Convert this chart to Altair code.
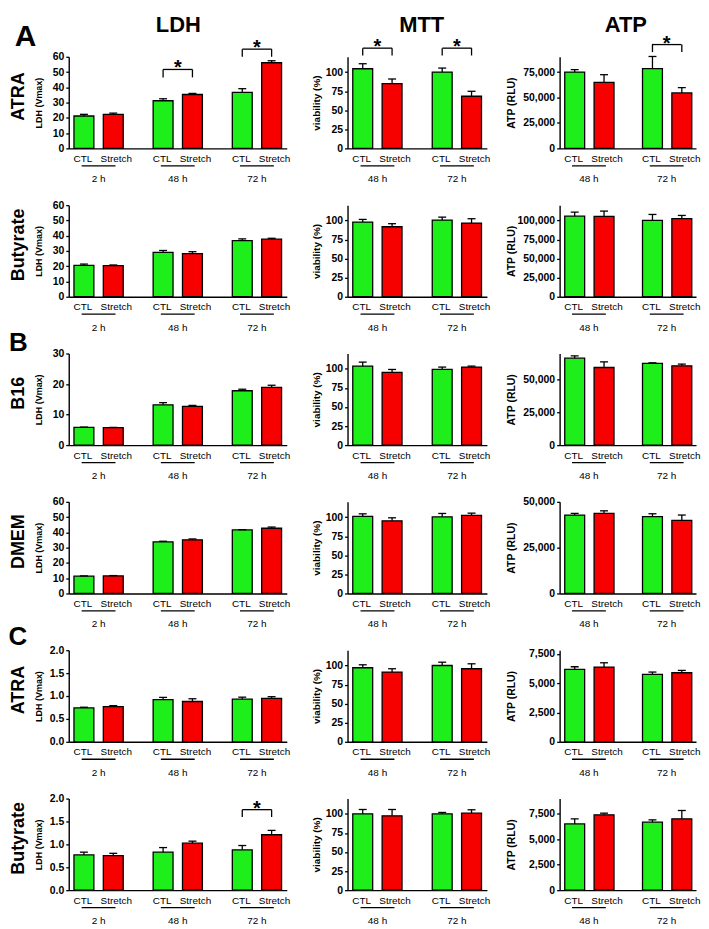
import altair as alt
import pandas as pd

FONT = "Liberation Sans, Arial, sans-serif"
GREEN = "#1EEF1A"
RED = "#F60000"
H = 92

conds = ["CTL", "Stretch"]
times_ldh = ["2 h", "48 h", "72 h"]
times_mt = ["48 h", "72 h"]
row_names = ["ATRA", "Butyrate", "B16", "DMEM", "ATRA", "Butyrate"]

# LDH (Vmax): CTL 2h, Stretch 2h, CTL 48h, Stretch 48h, CTL 72h, Stretch 72h
ldh_mean = [
    [21.2, 22.3, 31.2, 35.3, 36.7, 56.1],
    [20.6, 20.4, 29.0, 28.2, 36.8, 37.7],
    [5.8, 5.7, 13.2, 12.7, 17.8, 18.9],
    [11.3, 11.5, 33.8, 35.1, 41.6, 42.7],
    [0.74, 0.77, 0.92, 0.88, 0.93, 0.95],
    [0.77, 0.755, 0.83, 1.025, 0.88, 1.21],
]
ldh_err = [
    [1.1, 0.8, 1.3, 0.7, 2.4, 1.3],
    [0.8, 0.4, 1.3, 1.3, 1.1, 0.6],
    [0.1, 0.1, 0.7, 0.3, 0.5, 0.7],
    [0.2, 0.2, 0.4, 0.6, 0.2, 0.8],
    [0.015, 0.02, 0.05, 0.06, 0.045, 0.035],
    [0.06, 0.05, 0.10, 0.045, 0.095, 0.095],
]
# MTT viability (%): CTL 48h, Stretch 48h, CTL 72h, Stretch 72h
mtt_mean = [
    [104.3, 84.8, 100.0, 68.3],
    [97.8, 91.7, 100.4, 96.5],
    [103.5, 95.2, 99.1, 102.2],
    [100.9, 95.2, 100.4, 102.2],
    [97.0, 91.4, 100.0, 95.7],
    [100.0, 97.4, 100.0, 100.9],
]
mtt_err = [
    [6.6, 6.1, 5.2, 6.5],
    [3.5, 4.0, 3.9, 5.7],
    [5.2, 3.9, 3.1, 1.3],
    [3.4, 3.9, 4.4, 3.0],
    [3.9, 4.3, 4.3, 6.5],
    [5.7, 8.3, 1.8, 4.4],
]
# ATP (RLU)
atp_mean = [
    [75000, 64900, 78300, 54500],
    [105600, 105200, 100000, 102200],
    [66400, 59300, 62400, 60600],
    [42800, 43700, 41900, 39900],
    [6165, 6360, 5740, 5880],
    [6513, 7401, 6678, 7007],
]
atp_err = [
    [2300, 7500, 12000, 5200],
    [5300, 7000, 7800, 4300],
    [1800, 4300, 500, 1300],
    [900, 1400, 1600, 2900],
    [225, 370, 200, 200],
    [494, 165, 230, 822],
]

ldh_max = [60, 60, 30, 60, 2.0, 2.0]
ldh_ticks = [
    [0, 10, 20, 30, 40, 50, 60],
    [0, 10, 20, 30, 40, 50, 60],
    [0, 10, 20, 30],
    [0, 10, 20, 30, 40, 50, 60],
    [0, 0.5, 1.0, 1.5, 2.0],
    [0, 0.5, 1.0, 1.5, 2.0],
]
mtt_max = 120
mtt_ticks = [0, 25, 50, 75, 100]
atp_max = [90000, 120000, 70000, 50000, 7800, 9000]
atp_ticks = [
    [0, 25000, 50000, 75000],
    [0, 25000, 50000, 75000, 100000],
    [0, 25000, 50000],
    [0, 25000, 50000],
    [0, 2500, 5000, 7500],
    [0, 2500, 5000, 7500],
]

# significance brackets: (row, assay, time, bracket end, bracket top)
sig_row = [0, 0, 0, 0, 0, 5]
sig_assay = ["LDH", "LDH", "MTT", "MTT", "ATP", "LDH"]
sig_time = ["48 h", "72 h", "48 h", "72 h", "72 h", "72 h"]
sig_low = [46.5, 60.0, 121.7, 121.7, 94600, 1.597]
sig_high = [51.7, 65.0, 131.3, 131.3, 102000, 1.758]


def txt(label, x, y, size, weight="bold", angle=0, baseline="middle"):
    return alt.Chart(pd.DataFrame({"t": [label]})).mark_text(
        font=FONT, fontSize=size, fontWeight=weight, angle=angle,
        baseline=baseline, align="center", color="black"
    ).encode(text="t:N", x=alt.value(x), y=alt.value(y))


def panel(row, assay, times, means, errs, ymax, ticks, fmt, ytitle, title_x,
          title_size, width, extra):
    recs = []
    k = 0
    for t in times:
        for c in conds:
            recs.append(dict(time=t, cond=c, mean=means[k], hi=means[k] + errs[k]))
            k += 1
    df = pd.DataFrame(recs)
    tdf = pd.DataFrame({"time": times})
    xs = alt.Scale(paddingInner=0.378, paddingOuter=0.066)
    x = alt.X("time:N", sort=times, scale=xs,
              axis=alt.Axis(labels=False, ticks=False, title=None))
    xo = alt.XOffset("cond:N", sort=conds,
                     scale=alt.Scale(paddingInner=0.322, paddingOuter=0))
    ys = alt.Scale(domain=[0, ymax], nice=False, zero=True)
    yax = alt.Axis(values=ticks, format=fmt, title=ytitle, titleX=title_x,
                   titleY=H / 2, titleAngle=270, titleBaseline="middle",
                   titleAlign="center", titleFontSize=title_size)

    def Y(field):
        return alt.Y(field, scale=ys, axis=yax, title=ytitle)

    bars = alt.Chart(df).mark_bar(stroke="black", strokeWidth=1.3).encode(
        x=x, xOffset=xo, y=Y("mean:Q"),
        color=alt.Color("cond:N", scale=alt.Scale(domain=conds, range=[GREEN, RED]),
                        legend=None),
    )
    err = alt.Chart(df).mark_rule(color="black", strokeWidth=1.3).encode(
        x=x, xOffset=xo, y=Y("mean:Q"), y2="hi:Q")
    cap = alt.Chart(df).mark_tick(orient="horizontal", size=8, thickness=1.3,
                                  color="black", opacity=1).encode(
        x=x, xOffset=xo, y=Y("hi:Q"))
    clab_c = alt.Chart(df).transform_filter(alt.datum.cond == "CTL").mark_text(
        font=FONT, fontSize=10, baseline="middle", color="black", dx=-1).encode(
        x=x, xOffset=xo, y=alt.value(H + 10.5), text="cond:N")
    clab_s = alt.Chart(df).transform_filter(alt.datum.cond == "Stretch").mark_text(
        font=FONT, fontSize=10, baseline="middle", color="black", dx=3).encode(
        x=x, xOffset=xo, y=alt.value(H + 10.5), text="cond:N")
    uline = alt.Chart(tdf).mark_tick(orient="horizontal", size=34, thickness=1.3,
                                     color="black", opacity=1).encode(
        x=x, y=alt.value(H + 17.5))
    tlab = alt.Chart(tdf).mark_text(font=FONT, fontSize=10, baseline="middle",
                                    color="black").encode(
        x=x, y=alt.value(H + 31), text="time:N")
    layers = [bars, err, cap, clab_c, clab_s, uline, tlab]

    srecs = [dict(time=sig_time[i], low=sig_low[i], high=sig_high[i])
             for i in range(len(sig_row)) if sig_row[i] == row and sig_assay[i] == assay]
    if srecs:
        sdf = pd.DataFrame(srecs)
        sdf2 = pd.DataFrame([dict(time=r["time"], cond=c, low=r["low"], high=r["high"])
                             for r in srecs for c in conds])
        legs = alt.Chart(sdf2).mark_rule(color="black", strokeWidth=1.3).encode(
            x=x, xOffset=xo, y=Y("low:Q"), y2="high:Q")
        top = alt.Chart(sdf).mark_tick(orient="horizontal", size=29.5, thickness=1.3,
                                       color="black", opacity=1).encode(
            x=x, y=Y("high:Q"))
        star = alt.Chart(sdf).mark_text(text="*", font=FONT, fontSize=20,
                                        fontWeight="bold", baseline="alphabetic",
                                        dy=5, color="black").encode(
            x=x, y=Y("high:Q"))
        layers += [legs, top, star]
    layers += extra
    return alt.layer(*layers).properties(width=width, height=H)


def spacer(w):
    return alt.Chart(pd.DataFrame({"v": [0]})).mark_point(opacity=0).encode(
        x=alt.value(0), y=alt.value(0)).properties(width=w, height=H)


letters = {0: ("A", -43.5, -20, 30), 2: ("B", -50.5, -11, 26), 4: ("C", -51, -13, 26)}

items = []
for r in range(6):
    ex_ldh = [txt(row_names[r], -50, 40, 18, angle=270)]
    ex_mtt = []
    ex_atp = []
    if r == 0:
        ex_ldh.append(alt.Chart(pd.DataFrame({"v": [0]})).mark_point(
            filled=True, color="white", size=1, opacity=1, strokeWidth=0).encode(
            x=alt.value(-60), y=alt.value(-46)))
        ex_ldh.append(txt("LDH", 110, -42, 22, baseline="top"))
        ex_mtt.append(txt("MTT", 74.5, -42, 22, baseline="top"))
        ex_atp.append(txt("ATP", 66.5, -42, 22, baseline="top"))
    if r in letters:
        l, lx, ly, ls = letters[r]
        ex_ldh.append(txt(l, lx, ly, ls))
    fmt_l = ".1f" if ldh_max[r] < 5 else "d"
    items.append(panel(r, "LDH", times_ldh, ldh_mean[r], ldh_err[r], ldh_max[r],
                       ldh_ticks[r], fmt_l, "LDH (Vmax)", -30.5, 9, 219, ex_ldh))
    items.append(spacer(61))
    items.append(panel(r, "MTT", times_mt, mtt_mean[r], mtt_err[r], mtt_max,
                       mtt_ticks, "d", "viability (%)", -31.5, 10, 140, ex_mtt))
    items.append(spacer(73))
    items.append(panel(r, "ATP", times_mt, atp_mean[r], atp_err[r], atp_max[r],
                       atp_ticks[r], ",d", "ATP (RLU)", -48, 10.5, 137, ex_atp))

chart = alt.concat(*items, columns=5, spacing={"row": 57, "column": 0},
                   bounds="flush").properties(padding=0, background="white")
chart = chart.configure_view(stroke=None).configure_axis(
    labelFont=FONT, labelFontWeight="bold", labelFontSize=10.5, labelColor="black",
    labelPadding=2, tickSize=3, tickWidth=1.3, tickColor="black",
    domainColor="black", domainWidth=1.4, grid=False,
    titleFont=FONT, titleFontWeight="bold", titleColor="black",
)

chart.save("out.html", embed_options={"renderer": "svg", "actions": False})
